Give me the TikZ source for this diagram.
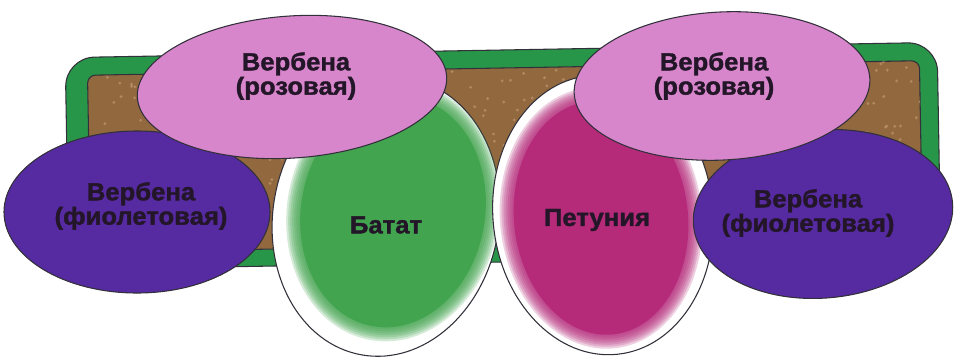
\documentclass[tikz,border=0pt]{standalone}
\usepackage{fontspec}
\setmainfont{Liberation Sans}
\newfontfamily\plantfont{Liberation Sans Bold}[FakeBold=1.4, FakeStretch=1.04]
\usetikzlibrary{
    calc,
    positioning
}
\definecolor{ink}{RGB}{35,22,40}
\definecolor{edge}{RGB}{50,48,58}
\definecolor{bedgreen}{RGB}{40,150,72}
\definecolor{soil}{RGB}{146,104,62}
\definecolor{soillight}{RGB}{196,160,120}
\definecolor{verbpink}{RGB}{216,134,204}
\definecolor{verbviolet}{RGB}{86,42,160}
\definecolor{batatgreen}{RGB}{66,164,78}
\definecolor{petuniared}{RGB}{182,42,122}
\tikzset{
    line cap=round,
    line join=round,
    outline/.style={
        draw=edge,
        line width=0.8pt
    },
    rim/.style={
        outline,
        fill=white
    },
    bloom/.style={
        outline,
        fill=#1
    },
    haze/.style={
        fill=#1,
        fill opacity=0.22
    },
    plantlabel/.style={
        font=\plantfont\fontsize{18.5}{17}\selectfont,
        text=ink,
        align=center,
        inner sep=0pt
    }
}

\begin{document}
\begin{tikzpicture}[x=0.75pt, y=-0.75pt]
\useasboundingbox (0,0) rectangle (955,361);

% Bed: green frame with soil
\begin{scope}[shift={(503,156)}, rotate=1]
    \draw[outline, fill=bedgreen, rounded corners=22] (-436,-106) rectangle (436,106);
    \draw[outline, fill=soil, rounded corners=6] (-414,-88) rectangle (418,89);
    \begin{scope}
        \clip (-414,-88) rectangle (418,89);
        \pgfmathsetseed{12}
        \foreach \i in {1,...,500}
            \fill[soillight, opacity=0.6] ({-414+832*rnd},{-88+177*rnd}) circle (1.6);
    \end{scope}
\end{scope}

% Centre: Batat and Petunia in white rims
\draw[rim] (386,217) ellipse [x radius=113, y radius=140, rotate=-10];
\foreach \g in {12,10,...,0}
    \fill[haze=batatgreen] (393,212) ellipse [x radius=94+\g, y radius=118+\g, rotate=-10];
\fill[batatgreen] (393,212) ellipse [x radius=92, y radius=116, rotate=-10];
\draw[rim] (603,215) ellipse [x radius=110, y radius=140, rotate=6];
\foreach \g in {12,10,...,0}
    \fill[haze=petuniared] (601,218) ellipse [x radius=89+\g, y radius=119+\g, rotate=6];
\fill[petuniared] (601,218) ellipse [x radius=87, y radius=117, rotate=6];

% Violet verbena, left and right
\draw[bloom=verbviolet] (137,212) ellipse [x radius=133, y radius=81];
\draw[bloom=verbviolet] (823,214) ellipse [x radius=130, y radius=84, rotate=5];

% Pink verbena, left and right
\draw[bloom=verbpink] (292,87) ellipse [x radius=155, y radius=71, rotate=4];
\draw[bloom=verbpink] (722,86) ellipse [x radius=148, y radius=74, rotate=3];

% Labels
\node[plantlabel] (pinkL) at (296,76) {Вербена\\(розовая)};
\node[plantlabel] (violetL) at (141,206) {Вербена\\(фиолетовая)};
\node[plantlabel] (batat) at (386,225) {Батат};
\node[plantlabel] (petunia) at (597,220) {Петуния};
\node[plantlabel] (pinkR) at (714,76) {Вербена\\(розовая)};
\node[plantlabel] (violetR) at (808,213) {Вербена\\(фиолетовая)};

\end{tikzpicture}
\end{document}
